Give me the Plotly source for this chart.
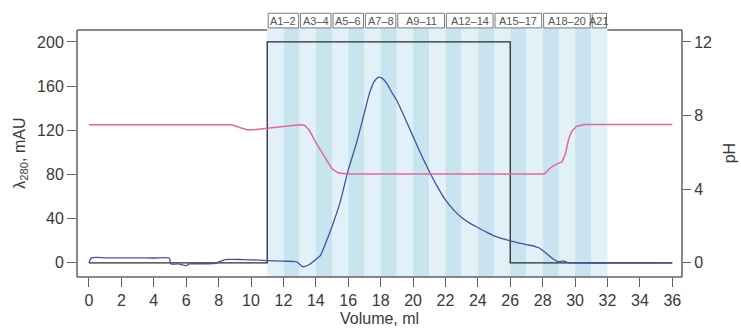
import plotly.graph_objects as go

# ---------------- data ----------------
uv_volume = [0, 0.15, 1, 2, 3, 4, 4.95, 5.05, 5.5, 6.0, 6.2, 7, 7.8, 8.3, 8.6, 9.5, 10.5, 11,
             12, 12.8, 13.2, 13.6, 14.0, 14.3, 14.5, 15, 15.5, 16, 16.5, 17, 17.3, 17.6, 17.85,
             18.1, 18.4, 18.7, 19, 19.5, 20, 20.5, 21, 21.5, 22, 22.5, 23, 23.5, 24, 24.5, 25,
             25.5, 26, 26.5, 27, 27.5, 27.8, 28.1, 28.4, 28.7, 29, 29.3, 29.5, 30, 36]
uv_mau = [0, 4.5, 4.6, 4.5, 4.5, 4.4, 4.4, -1, -1, -2.5, -1, -0.8, -0.5, 2.5, 3.2, 3.0, 2.5, 2.0,
          1.5, 1.0, -3.5, -1.5, 3, 7, 14, 33, 55, 84, 108, 136, 153, 164, 168,
          167, 162, 154, 147, 131, 114.5, 98, 83, 69, 57, 48, 41, 36, 32, 28, 24.5,
          22, 20, 18, 16.5, 15, 13.5, 10, 6.5, 3, 1, 1.8, 0.5, 0, 0]

ph_volume = [0, 8.8, 9.3, 9.8, 10.3, 11, 12, 13, 13.3, 13.6, 14, 14.5, 15, 15.4, 16, 28.1,
             28.4, 28.7, 29.2, 29.4, 29.6, 29.8, 30.1, 30.6, 36]
ph_value = [7.5, 7.5, 7.35, 7.22, 7.24, 7.3, 7.42, 7.5, 7.48, 7.2, 6.55, 5.8, 5.1, 4.88, 4.83, 4.83,
            5.1, 5.3, 5.5, 5.9, 6.7, 7.15, 7.42, 7.52, 7.52]

inject_volume = [0, 11, 11, 26, 26, 36]
inject_mau = [0, 0, 200, 200, 0, 0]

fraction_edges = [11, 12, 13, 14, 15, 16, 17, 18, 19, 20, 21, 22, 23, 24, 25, 26, 27, 28, 29, 30, 31, 32]

group_labels = ["A1–2", "A3–4", "A5–6", "A7–8", "A9–11", "A12–14", "A15–17", "A18–20", "A21"]
group_start = [11, 13, 15, 17, 19, 22, 25, 28, 31]
group_end = [13, 15, 17, 19, 22, 25, 28, 31, 32]

x_ticks = [0, 2, 4, 6, 8, 10, 12, 14, 16, 18, 20, 22, 24, 26, 28, 30, 32, 34, 36]
y_ticks = [0, 40, 80, 120, 160, 200]
y2_ticks = [0, 4, 8, 12]

# ---------------- figure ----------------
X_RANGE = [-0.74, 36.6]
Y_RANGE = [-12.8, 210.8]
Y2_RANGE = [Y_RANGE[0] * 0.06, Y_RANGE[1] * 0.06]

TXT = "#3a3a3a"
FONT = "Liberation Sans, Arial, Helvetica, sans-serif"
LIGHT = "#e2f0f7"
DARK = "#c8e5ef"
BORDER = "#606060"

fig = go.Figure()

fig.add_trace(go.Scatter(x=inject_volume, y=inject_mau, mode="lines",
                         line=dict(color="#2b2b2b", width=1.3), hoverinfo="skip"))
fig.add_trace(go.Scatter(x=uv_volume, y=uv_mau, mode="lines",
                         line=dict(color="#4352a2", width=1.3, shape="spline", smoothing=0.6),
                         hoverinfo="skip"))
fig.add_trace(go.Scatter(x=ph_volume, y=ph_value, mode="lines", yaxis="y2",
                         line=dict(color="#e4679f", width=1.5), hoverinfo="skip"))

shapes = []
# fraction stripes
for i in range(len(fraction_edges) - 1):
    shapes.append(dict(type="rect", xref="x", yref="paper",
                       x0=fraction_edges[i], x1=fraction_edges[i + 1], y0=0, y1=1.009,
                       fillcolor=LIGHT if i % 2 == 0 else DARK, line=dict(width=0),
                       layer="below"))

# plot border (top edge interrupted by the fraction stripes)
def seg(x0, y0, x1, y1, xref="paper"):
    return dict(type="line", xref=xref, yref="paper", x0=x0, y0=y0, x1=x1, y1=y1,
                line=dict(color=BORDER, width=1.5), layer="above")

shapes.append(seg(0, 0, 0, 1))
shapes.append(seg(1, 0, 1, 1))
shapes.append(seg(0, 0, 1, 0))
shapes.append(seg(X_RANGE[0], 1, fraction_edges[0], 1, xref="x"))
shapes.append(seg(fraction_edges[-1], 1, X_RANGE[1], 1, xref="x"))

annotations = []
BOX_Y0 = 1.0085
BOX_Y1 = 1.0676
for lab, a, b in zip(group_labels, group_start, group_end):
    shapes.append(dict(type="rect", xref="x", yref="paper",
                       x0=a + 0.06, x1=b - 0.06, y0=BOX_Y0, y1=BOX_Y1,
                       fillcolor="white", line=dict(color="#7a7a7a", width=1),
                       layer="above"))
    annotations.append(dict(x=(a + b) / 2, y=(BOX_Y0 + BOX_Y1) / 2, xref="x", yref="paper",
                            text=lab, showarrow=False,
                            font=dict(size=11, color="#555", family=FONT),
                            xanchor="center", yanchor="middle"))

# axis titles
annotations.append(dict(x=0.5, y=-0.166, xref="paper", yref="paper", text="Volume, ml",
                        showarrow=False, xanchor="center", yanchor="middle",
                        font=dict(size=16, color=TXT, family=FONT)))
annotations.append(dict(x=-0.094, y=0.5, xref="paper", yref="paper",
                        text="λ<sub>280</sub>, mAU", textangle=-90,
                        showarrow=False, xanchor="center", yanchor="middle",
                        font=dict(size=16, color=TXT, family=FONT)))
annotations.append(dict(x=1.079, y=0.5, xref="paper", yref="paper", text="pH",
                        textangle=-90, showarrow=False, xanchor="center", yanchor="middle",
                        font=dict(size=16, color=TXT, family=FONT)))

fig.update_layout(
    width=741, height=332,
    margin=dict(l=77, r=59, t=30, b=55),
    paper_bgcolor="white", plot_bgcolor="white",
    showlegend=False,
    font=dict(family=FONT, size=16, color=TXT),
    shapes=shapes, annotations=annotations,
    xaxis=dict(range=X_RANGE, tickvals=x_ticks, ticks="outside", ticklen=9,
               tickcolor=BORDER, tickwidth=1.3, showgrid=False, zeroline=False,
               showline=False, automargin=False, tickfont=dict(size=16, color=TXT)),
    yaxis=dict(range=Y_RANGE, tickvals=y_ticks, ticks="outside", ticklen=9,
               tickcolor=BORDER, tickwidth=1.3, showgrid=False, zeroline=False,
               showline=False, automargin=False, tickfont=dict(size=16, color=TXT)),
    yaxis2=dict(range=Y2_RANGE, tickvals=y2_ticks, overlaying="y", side="right",
                ticks="outside", ticklen=8, tickcolor=BORDER, tickwidth=1.3,
                showgrid=False, zeroline=False, showline=False, automargin=False,
                tickfont=dict(size=16, color=TXT)),
)

fig.write_html("out.html", config={"displayModeBar": False},
               post_script="document.body.style.margin='0';document.body.style.padding='0';")
